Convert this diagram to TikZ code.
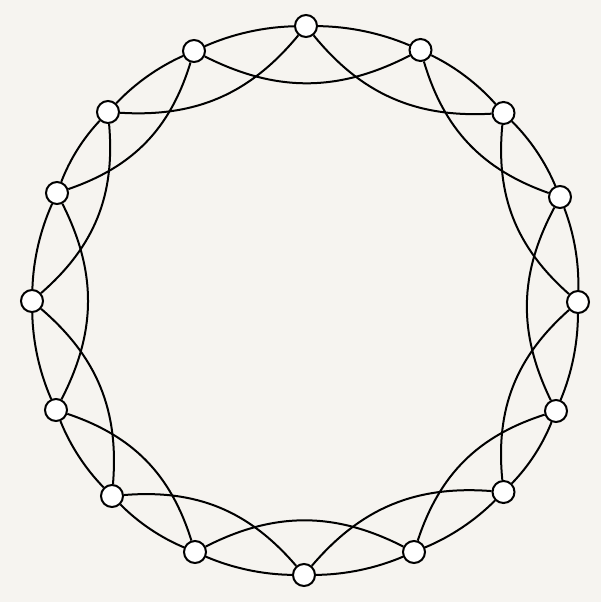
\documentclass[tikz,border=0pt]{standalone}
\definecolor{paper}{RGB}{246,244,240}

\begin{document}
\begin{tikzpicture}[
    x=0.5pt, y=-0.5pt,
    vertex/.style={draw, circle, fill=white, line width=1pt, minimum size=11pt, inner sep=0pt},
    rim/.style={line width=1pt, bend left=11.25, looseness=0.85},
    chord/.style={line width=1pt, bend right=27}
]

% Background
\fill[paper] (0,0) rectangle (601,602);

% Nodes
\foreach \k/\x/\y in {0/306/26, 1/420.5/50, 2/503.5/113, 3/560/197,
                      4/578/302, 5/556/411, 6/503.5/492, 7/414/552,
                      8/304/575, 9/195/552, 10/112/496, 11/56/410,
                      12/32/301, 13/57/193, 14/108/112, 15/194/51}
    \node[vertex] (v\k) at (\x,\y) {};

% Edges
\foreach \k [evaluate=\k as \j using {int(mod(\k+1,16))},
             evaluate=\k as \i using {int(mod(\k+2,16))}] in {0,...,15} {
    \draw[rim] (v\k) to (v\j);
    \draw[chord] (v\k) to (v\i);
}
\end{tikzpicture}
\end{document}
